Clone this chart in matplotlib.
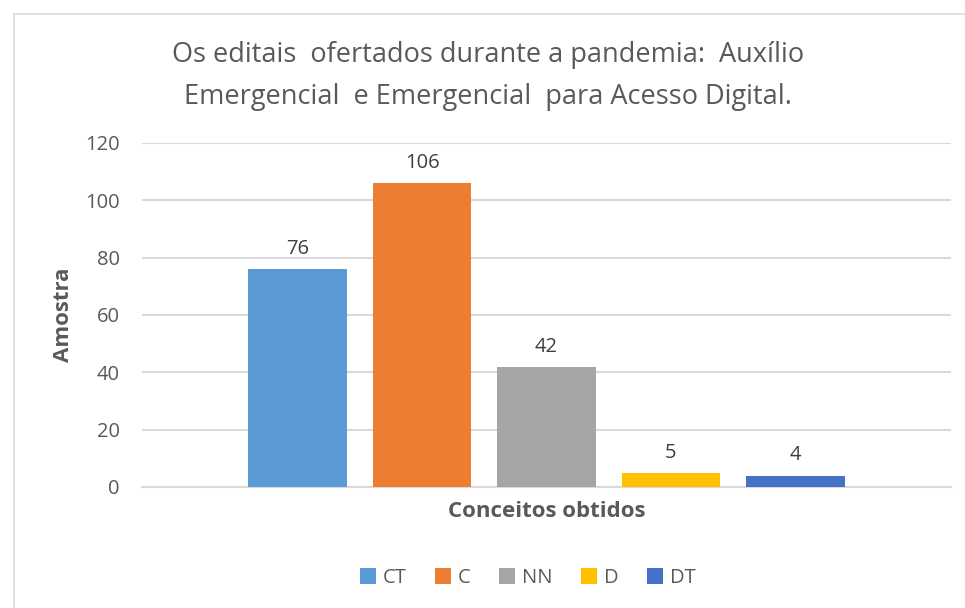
import matplotlib.pyplot as plt
from matplotlib.patches import Rectangle

# data
series = ['CT', 'C', 'NN', 'D', 'DT']
valores = [76, 106, 42, 5, 4]
cores = ['#5B9BD5', '#ED7D31', '#A5A5A5', '#FFC000', '#4472C4']

titulo = 'Os editais  ofertados durante a pandemia:  Auxílio\nEmergencial  e Emergencial  para Acesso Digital.'
y_ticks = [0, 20, 40, 60, 80, 100, 120]

texto = '#595959'
plt.rcParams['font.family'] = ['Open Sans', 'DejaVu Sans']

fig = plt.figure(figsize=(9.65, 6.08), dpi=100)
fig.patches.append(Rectangle((14 / 965, -0.1), 1.2, 1 - 14 / 608 + 0.1, transform=fig.transFigure,
                             fill=False, edgecolor='#d9d9d9', linewidth=1.2))

ax = fig.add_axes([142 / 965, 1 - 487 / 608, 809 / 965, 344 / 608])

barras = []
for i, (s, v, c) in enumerate(zip(series, valores, cores)):
    b = ax.bar(i, v, width=0.79, color=c, label=s, zorder=3)
    barras.append(b)
    ax.text(i, v + 3.5, str(v), ha='center', va='bottom', fontsize=14.5, color='#404040')

ax.set_xlim(-1.25, 5.25)
ax.set_ylim(0, 120)
ax.set_yticks(y_ticks)
ax.set_xticks([])
ax.grid(axis='y', color='#d9d9d9', linewidth=1.5, zorder=0)
ax.set_axisbelow(True)
for sp in ['top', 'right', 'left']:
    ax.spines[sp].set_visible(False)
ax.spines['bottom'].set_color('#d9d9d9')
ax.spines['bottom'].set_linewidth(1.5)
ax.tick_params(axis='y', length=0, labelsize=14.5, labelcolor=texto, pad=16)

ax.set_ylabel('Amostra', fontsize=16, fontweight='bold', color=texto, labelpad=8)
ax.set_xlabel('Conceitos obtidos', fontsize=16, fontweight='bold', color=texto, labelpad=10)

fig.text(0.506, 1 - 76 / 608, titulo, ha='center', va='center', fontsize=19.5,
         color=texto, linespacing=1.65)

fig.legend(handles=[b[0] for b in barras], labels=series, loc='center', bbox_to_anchor=(0.547, 1 - 578 / 608),
           ncol=5, frameon=False, fontsize=14.5, handlelength=0.8, handleheight=0.8,
           handletextpad=0.35, columnspacing=1.4, labelcolor=texto)

fig.savefig('out.png', dpi=100)
